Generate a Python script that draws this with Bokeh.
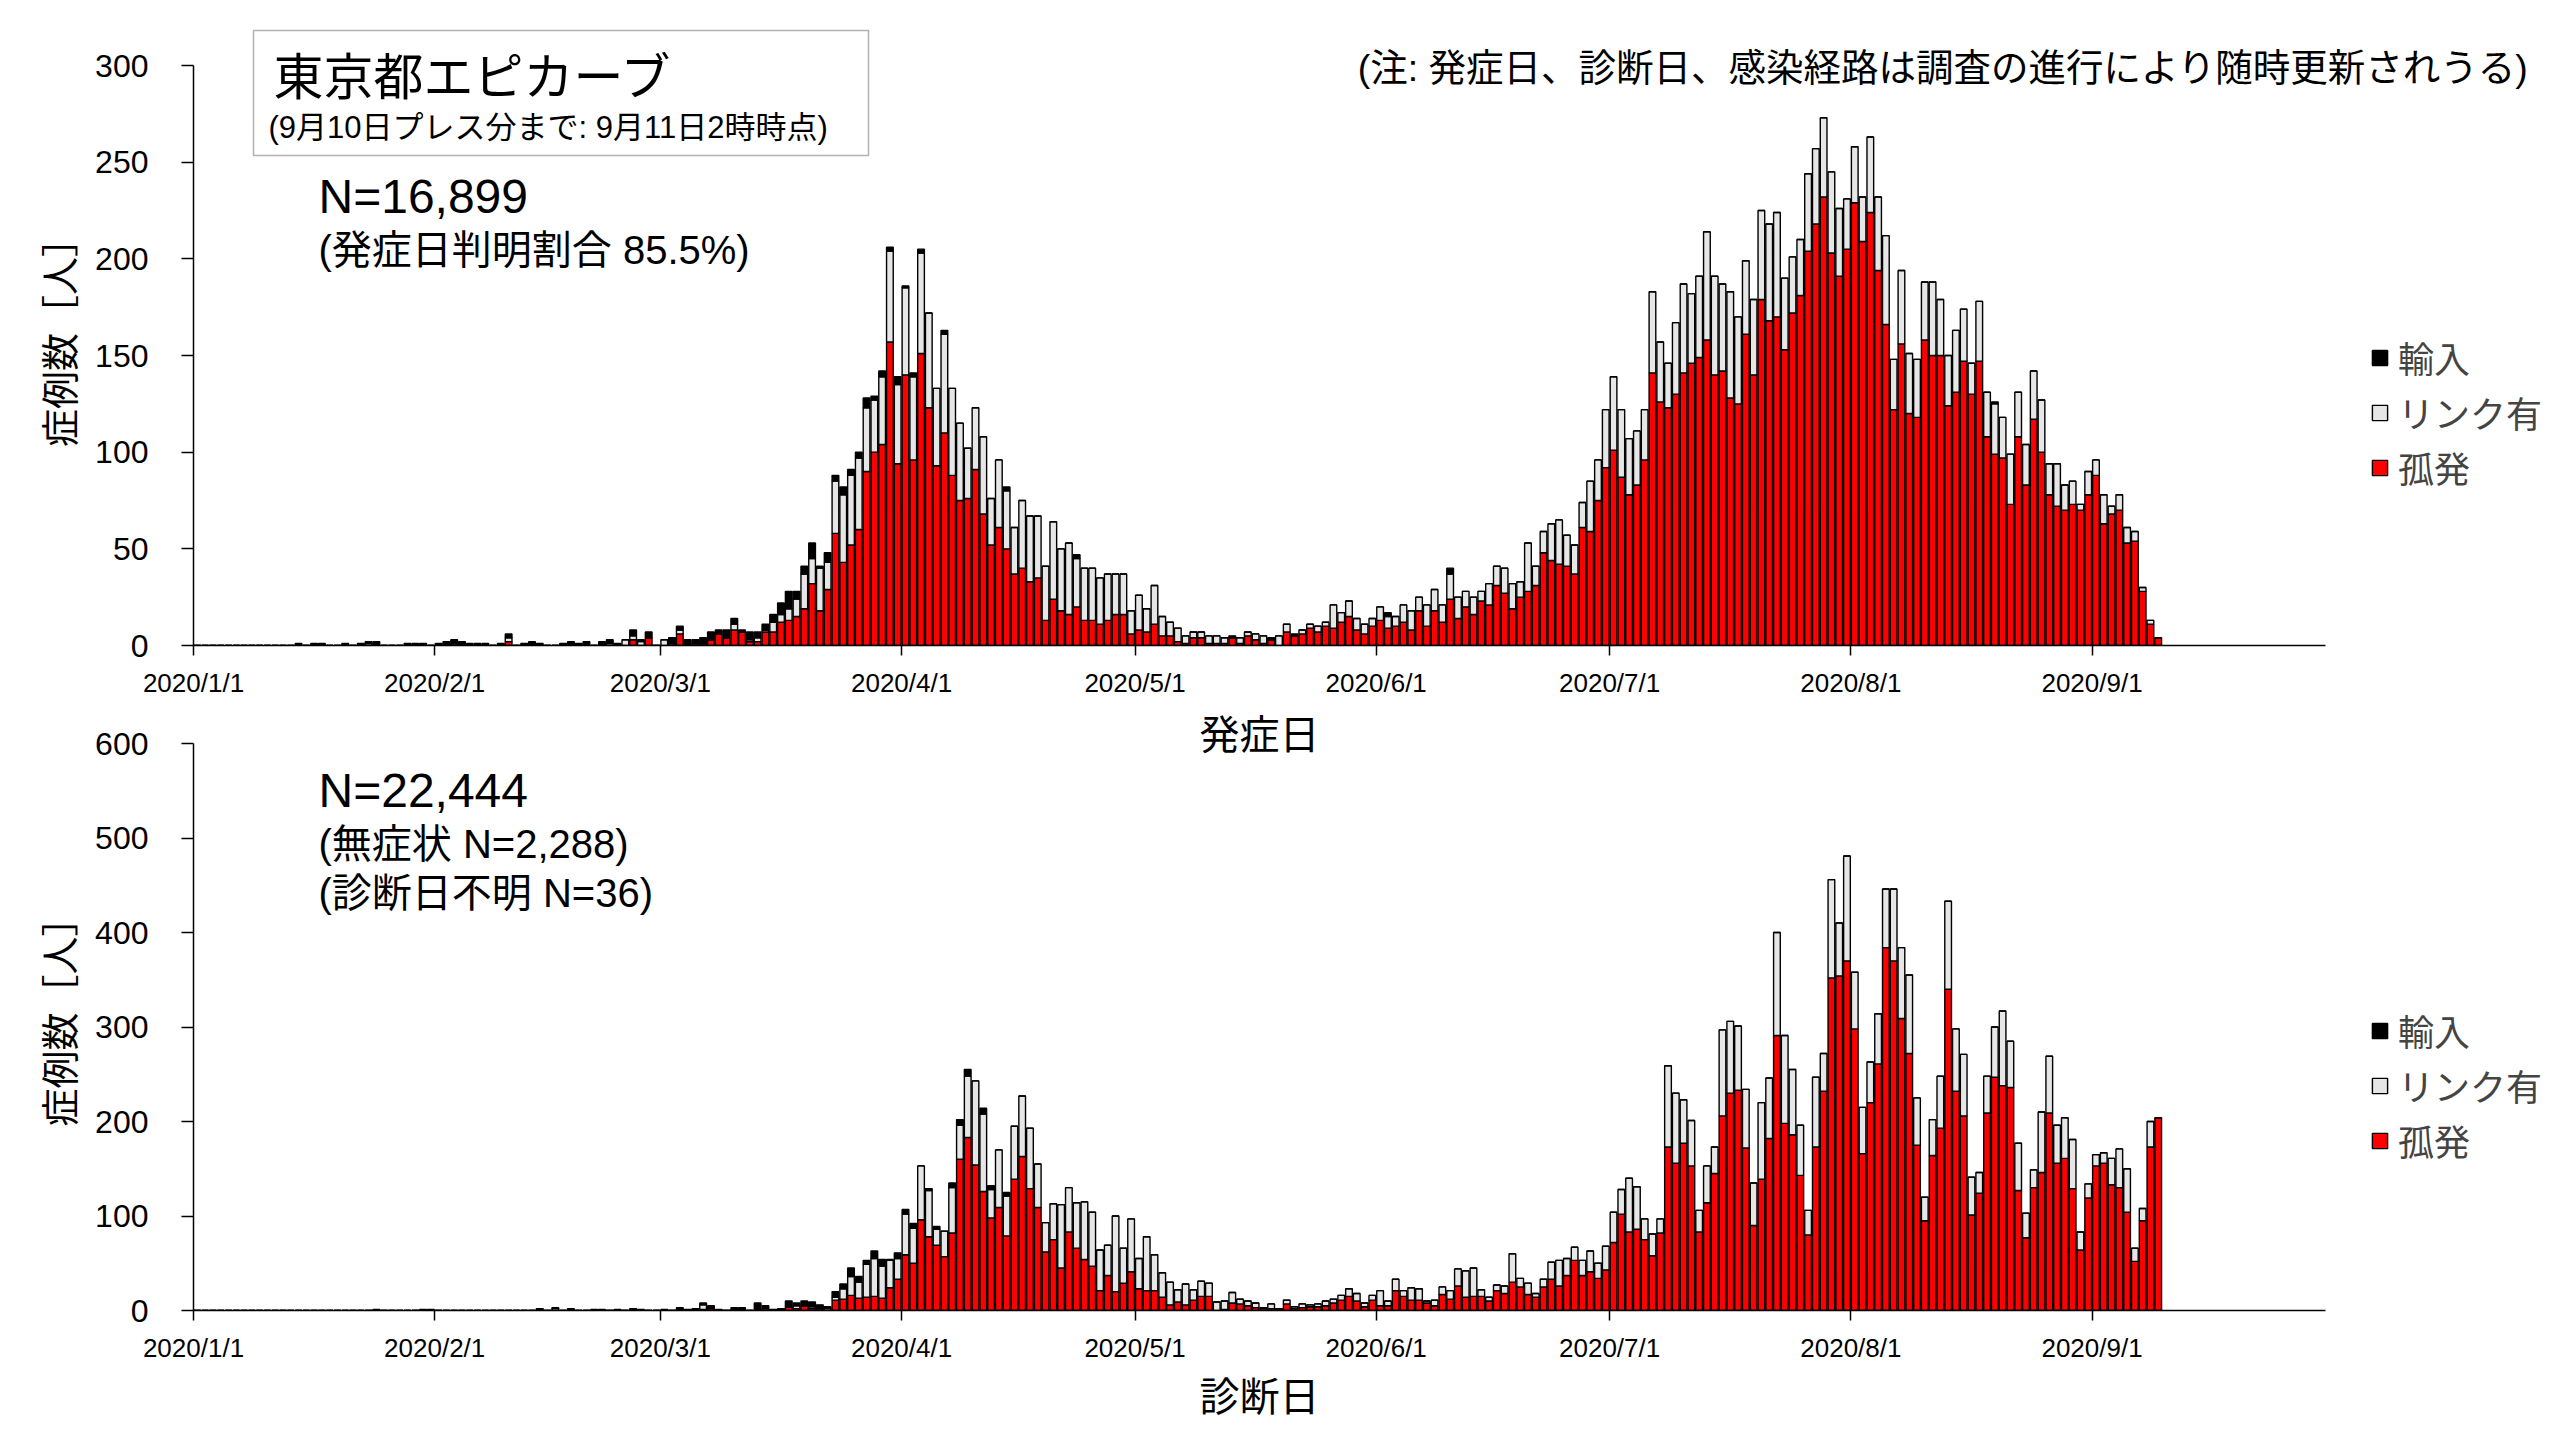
import pandas as pd
from bokeh.plotting import figure
from bokeh.models import (ColumnDataSource, Range1d, FixedTicker, Legend,
                          LegendItem, Label, BoxAnnotation, Title)
from bokeh.layouts import column
from bokeh.embed import file_html
from bokeh.resources import INLINE

# ---------------- data ----------------
START_DATE = "2020/1/1"
AXIS_END_DATE = "2020/10/1"
month_labels = ["2020/1/1", "2020/2/1", "2020/3/1", "2020/4/1", "2020/5/1",
                "2020/6/1", "2020/7/1", "2020/8/1", "2020/9/1"]
onset_y_ticks = [0, 50, 100, 150, 200, 250, 300]
diag_y_ticks = [0, 100, 200, 300, 400, 500, 600]
legend_labels = ["輸入", "リンク有", "孤発"]

# daily counts from 2020/1/1 (発症日)
onset_imported = [
    0, 0, 0, 0, 0, 0, 0, 0, 0, 0,
    0, 0, 0, 1, 0, 1, 1, 0, 0, 1,
    0, 1, 1, 2, 0, 0, 0, 1, 1, 1,
    0, 1, 2, 2, 2, 1, 1, 1, 0, 1,
    2, 0, 1, 2, 1, 0, 0, 1, 2, 1,
    2, 0, 2, 2, 1, 0, 3, 1, 3, 0,
    0, 3, 2, 3, 2, 3, 4, 2, 4, 3,
    1, 4, 3, 3, 4, 6, 9, 4, 4, 8,
    1, 5, 3, 4, 3, 3, 5, 2, 3, 2,
    4, 1, 2, 2, 0, 0, 2, 0, 0, 0,
    0, 0, 0, 0, 2, 0, 0, 0, 0, 0,
    0, 0, 0, 2, 0, 0, 0, 0, 0, 0,
    0, 0, 0, 0, 0, 0, 0, 0, 0, 0,
    0, 0, 0, 1, 0, 0, 0, 0, 1, 0,
    0, 1, 0, 0, 0, 0, 0, 0, 0, 0,
    0, 0, 0, 2, 0, 0, 0, 0, 0, 0,
    0, 3, 0, 0, 0, 0, 0, 0, 0, 0,
    0, 0, 0, 0, 0, 0, 0, 0, 0, 0,
    0, 0, 0, 0, 0, 0, 0, 0, 0, 0,
    0, 0, 0, 0, 0, 0, 0, 0, 0, 0,
    0, 0, 0, 0, 0, 0, 0, 0, 0, 0,
    0, 0, 0, 0, 0, 0, 0, 0, 0, 0,
    0, 0, 0, 0, 0, 0, 0, 0, 0, 0,
    0, 1, 0, 0, 0, 0, 0, 0, 0, 0,
    0, 0, 0, 0, 0, 0, 0, 0, 0, 0,
    0, 0, 0]
onset_linked = [
    0, 0, 0, 0, 0, 0, 0, 0, 0, 0,
    0, 0, 0, 0, 0, 0, 0, 0, 0, 0,
    0, 0, 1, 0, 0, 0, 0, 0, 0, 0,
    0, 0, 0, 0, 0, 0, 0, 0, 0, 0,
    2, 0, 0, 0, 0, 0, 0, 0, 0, 0,
    0, 0, 0, 1, 0, 3, 2, 2, 0, 0,
    3, 0, 2, 0, 0, 0, 0, 0, 0, 3,
    0, 1, 2, 1, 5, 4, 6, 9, 18, 13,
    22, 14, 27, 35, 36, 37, 33, 27, 35, 47,
    41, 45, 43, 52, 49, 40, 51, 45, 40, 26,
    32, 40, 24, 35, 30, 24, 35, 34, 32, 28,
    40, 32, 37, 25, 27, 27, 24, 24, 21, 21,
    12, 18, 12, 20, 10, 7, 7, 4, 3, 3,
    4, 4, 3, 0, 3, 2, 3, 4, 0, 5,
    4, 0, 2, 2, 3, 2, 12, 5, 8, 6,
    5, 4, 7, 6, 5, 9, 10, 7, 11, 11,
    9, 13, 11, 8, 9, 5, 11, 10, 13, 13,
    8, 25, 10, 11, 19, 23, 16, 15, 13, 26,
    21, 30, 38, 35, 29, 28, 26, 42, 31, 23,
    37, 46, 36, 42, 56, 51, 45, 55, 45, 38,
    39, 46, 50, 54, 37, 29, 29, 40, 39, 41,
    42, 35, 26, 29, 23, 39, 38, 46, 26, 38,
    31, 30, 30, 38, 29, 26, 32, 27, 16, 31,
    23, 26, 21, 26, 23, 21, 25, 27, 16, 22,
    13, 12, 3, 12, 8, 15, 4, 8, 8, 5,
    2, 2, 0]
onset_isolated = [
    0, 0, 0, 0, 0, 0, 0, 0, 0, 0,
    0, 0, 0, 0, 0, 0, 0, 0, 0, 0,
    0, 0, 0, 0, 0, 0, 0, 0, 0, 0,
    0, 0, 0, 1, 0, 0, 0, 0, 0, 0,
    2, 0, 0, 0, 0, 0, 0, 0, 0, 0,
    0, 0, 0, 0, 0, 0, 3, 0, 4, 0,
    0, 1, 6, 0, 1, 1, 3, 6, 4, 8,
    7, 2, 2, 7, 7, 12, 13, 15, 19, 32,
    18, 29, 58, 43, 52, 60, 90, 100, 104, 157,
    94, 140, 96, 151, 123, 93, 110, 88, 75, 76,
    91, 68, 52, 61, 50, 37, 40, 33, 35, 13,
    24, 18, 16, 20, 13, 13, 11, 13, 16, 16,
    6, 8, 7, 11, 5, 5, 2, 1, 4, 4,
    1, 1, 1, 4, 1, 5, 3, 1, 3, 0,
    7, 5, 6, 9, 7, 10, 9, 12, 15, 8,
    6, 10, 13, 9, 10, 12, 8, 18, 10, 18,
    12, 24, 14, 20, 16, 23, 21, 31, 27, 19,
    25, 28, 31, 48, 44, 42, 41, 37, 61, 59,
    75, 92, 101, 87, 78, 83, 96, 141, 126, 123,
    130, 141, 146, 149, 158, 140, 142, 128, 125, 161,
    140, 179, 168, 170, 153, 172, 181, 204, 218, 232,
    203, 191, 205, 229, 209, 224, 194, 166, 122, 156,
    120, 118, 158, 150, 150, 124, 131, 147, 130, 147,
    108, 99, 97, 73, 108, 83, 117, 100, 78, 72,
    70, 73, 70, 78, 88, 63, 68, 70, 53, 54,
    28, 11, 4]

# daily counts from 2020/1/1 (診断日)
diag_imported = [
    0, 0, 0, 0, 0, 0, 0, 0, 0, 0,
    0, 0, 0, 0, 0, 0, 0, 0, 0, 0,
    0, 0, 0, 1, 0, 0, 0, 0, 0, 1,
    1, 0, 0, 0, 0, 0, 0, 0, 0, 0,
    0, 0, 0, 0, 1, 0, 1, 0, 2, 0,
    0, 1, 1, 0, 1, 0, 2, 1, 0, 0,
    1, 0, 2, 1, 2, 2, 3, 1, 0, 3,
    3, 0, 8, 3, 1, 2, 6, 3, 5, 5,
    4, 2, 6, 5, 9, 6, 4, 8, 7, 1,
    6, 5, 5, 0, 2, 3, 0, 5, 6, 7,
    0, 6, 4, 0, 4, 0, 0, 0, 0, 0,
    0, 0, 0, 0, 0, 0, 0, 0, 0, 0,
    0, 0, 0, 0, 0, 0, 0, 0, 0, 0,
    0, 0, 0, 0, 0, 0, 0, 0, 0, 0,
    0, 0, 0, 0, 0, 0, 0, 0, 0, 0,
    0, 0, 0, 0, 0, 0, 0, 0, 0, 0,
    0, 0, 0, 0, 0, 0, 0, 0, 0, 0,
    0, 0, 0, 0, 0, 0, 0, 0, 0, 0,
    0, 0, 0, 0, 0, 0, 0, 0, 0, 0,
    0, 0, 0, 0, 0, 0, 0, 0, 0, 0,
    0, 0, 0, 0, 0, 0, 0, 0, 0, 0,
    0, 0, 0, 0, 0, 0, 0, 0, 0, 0,
    0, 0, 0, 0, 0, 0, 0, 0, 0, 0,
    0, 0, 0, 0, 0, 0, 0, 0, 0, 0,
    0, 0, 0, 0, 0, 0, 0, 0, 0, 0,
    0, 0, 0]
diag_linked = [
    0, 0, 0, 0, 0, 0, 0, 0, 0, 0,
    0, 0, 0, 0, 0, 0, 0, 0, 0, 0,
    0, 0, 0, 0, 0, 0, 0, 0, 0, 0,
    0, 0, 0, 0, 0, 0, 0, 0, 0, 0,
    0, 0, 0, 0, 1, 0, 2, 0, 0, 0,
    0, 0, 0, 0, 0, 0, 0, 0, 0, 0,
    0, 0, 0, 0, 0, 5, 0, 0, 0, 0,
    0, 0, 0, 0, 0, 0, 0, 3, 0, 2,
    0, 2, 3, 11, 20, 17, 35, 40, 34, 29,
    22, 43, 37, 57, 49, 17, 27, 48, 36, 65,
    89, 82, 30, 61, 42, 56, 64, 64, 46, 31,
    38, 67, 47, 48, 61, 57, 43, 32, 80, 37,
    56, 32, 57, 38, 26, 24, 13, 22, 11, 16,
    14, 9, 9, 11, 5, 5, 5, 1, 5, 0,
    4, 2, 4, 2, 3, 5, 4, 5, 8, 8,
    4, 5, 16, 5, 12, 6, 13, 12, 2, 6,
    8, 9, 18, 28, 30, 7, 4, 6, 8, 30,
    9, 12, 4, 8, 18, 27, 18, 14, 16, 22,
    16, 25, 32, 26, 57, 45, 22, 23, 15, 86,
    74, 46, 48, 23, 39, 28, 91, 76, 68, 62,
    45, 81, 64, 109, 93, 69, 53, 26, 74, 40,
    104, 56, 111, 60, 49, 43, 53, 62, 76, 75,
    83, 50, 25, 38, 55, 93, 66, 65, 40, 22,
    39, 53, 79, 49, 50, 26, 19, 64, 60, 40,
    43, 52, 19, 15, 12, 11, 28, 41, 46, 14,
    13, 27, 0]
diag_isolated = [
    0, 0, 0, 0, 0, 0, 0, 0, 0, 0,
    0, 0, 0, 0, 0, 0, 0, 0, 0, 0,
    0, 0, 0, 0, 0, 0, 0, 0, 0, 0,
    0, 0, 0, 0, 0, 0, 0, 0, 0, 0,
    0, 0, 0, 0, 0, 0, 0, 0, 0, 0,
    0, 0, 0, 0, 0, 0, 0, 0, 0, 0,
    0, 0, 1, 0, 0, 1, 2, 0, 0, 0,
    0, 0, 0, 2, 0, 0, 4, 2, 5, 2,
    2, 0, 11, 12, 16, 13, 14, 15, 13, 24,
    33, 59, 50, 96, 78, 69, 57, 82, 160, 183,
    154, 126, 98, 109, 79, 139, 163, 129, 109, 62,
    75, 45, 83, 66, 54, 47, 21, 37, 20, 29,
    41, 23, 21, 21, 14, 6, 9, 6, 11, 15,
    15, 0, 1, 8, 7, 5, 3, 2, 2, 2,
    7, 2, 3, 4, 4, 5, 8, 11, 15, 10,
    4, 11, 5, 5, 21, 15, 11, 11, 8, 5,
    17, 12, 26, 14, 15, 15, 10, 21, 18, 30,
    25, 17, 14, 25, 33, 26, 37, 53, 37, 41,
    34, 43, 72, 102, 83, 86, 75, 58, 82, 173,
    156, 177, 153, 83, 114, 145, 206, 230, 233, 172,
    90, 139, 182, 291, 198, 186, 143, 80, 173, 232,
    352, 354, 370, 298, 166, 220, 261, 384, 370, 309,
    272, 175, 95, 164, 193, 340, 232, 206, 101, 124,
    209, 247, 238, 236, 127, 77, 130, 146, 209, 156,
    161, 129, 64, 119, 153, 156, 133, 130, 104, 52,
    95, 173, 204]

# ---------------- style / geometry ----------------
FONT = "'Liberation Sans', 'Noto Sans CJK JP', sans-serif"
C_ISO, C_LINK, C_IMP = "#FF0000", "#E6E6E6", "#000000"

t0 = pd.Timestamp(START_DATE)
month_pos = [(pd.Timestamp(s) - t0).days for s in month_labels]
axis_days = (pd.Timestamp(AXIS_END_DATE) - t0).days

OFF = 0                      # page offset of the layout (px)
PAGE_W = 2552
FRAME_LEFT, AXIS_RIGHT, FRAME_RIGHT = 193, 2325, 2548   # page px
DAY_PX = (AXIS_RIGHT - FRAME_LEFT) / axis_days
X_MAX = (FRAME_RIGHT - FRAME_LEFT) / DAY_PX
AXIS_MID_PX = (FRAME_LEFT + AXIS_RIGHT) / 2


def make_panel(iso, link, imp, y_ticks, fig_top, fig_h, frame_top, base, y_top_px):
    y_max = y_ticks[-1]
    unit = (base - y_top_px) / y_max
    p = figure(width=PAGE_W, height=fig_h,
               x_range=Range1d(0, X_MAX), y_range=Range1d(0, (base - frame_top) / unit),
               output_backend="svg", toolbar_location=None,
               min_border_left=FRAME_LEFT - OFF,
               min_border_right=OFF + PAGE_W - FRAME_RIGHT,
               min_border_top=frame_top - fig_top,
               min_border_bottom=fig_top + fig_h - base)
    p.outline_line_color = None
    p.xgrid.visible = False
    p.ygrid.visible = False
    p.border_fill_alpha = 0
    p.background_fill_alpha = 0

    src = ColumnDataSource(dict(x=[i + 0.5 for i in range(len(iso))],
                                iso=iso, link=link, imp=imp))
    rs = p.vbar_stack(["iso", "link", "imp"], x="x", width=0.86, source=src,
                      fill_color=[C_ISO, C_LINK, C_IMP], line_color="black",
                      line_width=1.4)

    xa, ya = p.xaxis[0], p.yaxis[0]
    xa.ticker = FixedTicker(ticks=month_pos)
    xa.major_label_overrides = {m: l for m, l in zip(month_pos, month_labels)}
    xa.bounds = (0, axis_days)
    ya.ticker = FixedTicker(ticks=y_ticks)
    ya.bounds = (0, y_max)
    for ax in (xa, ya):
        ax.axis_line_width = 1.5
        ax.axis_line_color = "black"
        ax.major_tick_line_width = 1.5
        ax.major_tick_line_color = "black"
        ax.major_tick_in = 0
        ax.minor_tick_line_color = None
        ax.major_label_text_font = FONT
        ax.major_label_text_color = "black"
        ax.axis_label_text_font = FONT
        ax.axis_label_text_font_style = "normal"
        ax.axis_label_text_font_size = "38px"
        ax.axis_label_text_color = "black"
    xa.major_tick_out = 10
    xa.major_label_text_font_size = "26px"
    xa.major_label_standoff = 12
    ya.major_tick_out = 12
    ya.major_label_text_font_size = "32px"
    ya.major_label_standoff = 33
    ya.axis_label = "症例数［人］"
    ya.axis_label_standoff = 10

    def to_data(px, py):
        return (px - FRAME_LEFT) / DAY_PX, (base - py) / unit

    def text(s, px, py, size, align="left"):
        x, y = to_data(px, py)
        p.add_layout(Label(x=x, y=y, text=s, text_font=FONT, text_font_size=size,
                           text_align=align, text_baseline="middle",
                           text_color="black"))

    return p, rs, to_data, text


def add_legend(p, rs, base, first_center_py):
    pitch = 56
    item_h = 53
    bottom_py = first_center_py + 2 * pitch + item_h / 2
    items = [LegendItem(label=legend_labels[0], renderers=[rs[2]]),
             LegendItem(label=legend_labels[1], renderers=[rs[1]]),
             LegendItem(label=legend_labels[2], renderers=[rs[0]])]
    lg = Legend(items=items, location=(2370 - FRAME_LEFT, round(base - bottom_py)),
                orientation="vertical", glyph_width=19, glyph_height=19,
                label_standoff=9, label_text_font=FONT, label_text_font_size="36px",
                label_height=40, spacing=pitch - item_h, padding=0, margin=0,
                border_line_color=None, background_fill_alpha=0)
    p.add_layout(lg)


# ---------------- top: 発症日 ----------------
TOP_H = 712
p1, rs1, td1, text1 = make_panel(onset_isolated, onset_linked, onset_imported,
                                 onset_y_ticks, fig_top=OFF, fig_h=TOP_H, frame_top=20,
                                 base=645, y_top_px=65)
l, t = td1(253, 30)
r, b = td1(868, 155)
p1.add_layout(BoxAnnotation(left=l, right=r, top=t, bottom=b, fill_color="white",
                            fill_alpha=1, line_color="black", line_width=1.5))
text1("東京都エピカーブ", 273, 77, "50px")
text1("(9月10日プレス分まで: 9月11日2時時点)", 268, 127, "31px")
text1("N=16,899", 318, 196, "48px")
text1("(発症日判明割合 85.5%)", 318, 249, "40px")
text1("(注: 発症日、診断日、感染経路は調査の進行により随時更新されうる)", 2528, 67,
      "37.5px", align="right")
add_legend(p1, rs1, 645, 355)

# ---------------- bottom: 診断日 ----------------
BOT_TOP = OFF + TOP_H
p2, rs2, td2, text2 = make_panel(diag_isolated, diag_linked, diag_imported,
                                 diag_y_ticks, fig_top=BOT_TOP, fig_h=1438 - BOT_TOP,
                                 frame_top=BOT_TOP + 2, base=1310, y_top_px=743)
text2("発症日", AXIS_MID_PX, 734, "40px", align="center")
text2("N=22,444", 318, 790, "48px")
text2("(無症状 N=2,288)", 318, 843, "40px")
text2("(診断日不明 N=36)", 318, 892, "40px")
add_legend(p2, rs2, 1310, 1027)
# x-axis title of the lower chart, centred under the date axis (not the wider frame)
XT_SIZE = 40
p2.add_layout(Title(text="診断日", align="left",
                    offset=round(AXIS_MID_PX - 1.5 * XT_SIZE - FRAME_LEFT),
                    text_font=FONT, text_font_size=f"{XT_SIZE}px",
                    text_font_style="normal", text_color="black", standoff=14), "below")

layout = column(p1, p2, spacing=0)
open("out.html", "w").write(file_html(layout, INLINE, "東京都エピカーブ"))
